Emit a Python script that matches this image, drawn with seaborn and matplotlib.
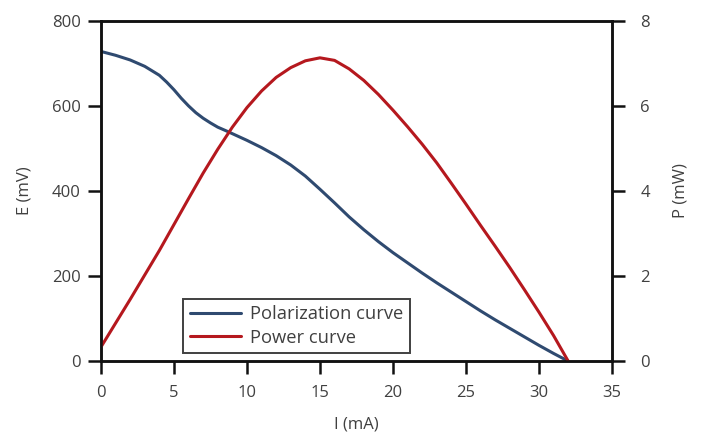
import matplotlib
matplotlib.use("Agg")
import matplotlib.pyplot as plt
import seaborn as sns
import pandas as pd

sns.set_style("ticks")
plt.rcParams["font.family"] = ["Open Sans", "DejaVu Sans"]

# polarization curve, E (mV) vs I (mA)
current_pol = [0, 1, 2, 3, 4, 4.5, 5, 5.5, 6, 6.5, 7, 7.5, 8, 8.6, 10, 11, 12,
               13, 14, 15, 16, 17, 18, 19, 20, 21, 22, 23, 24, 25, 26, 27,
               28, 29, 30, 31, 32]
voltage_pol = [728, 719, 708, 693, 672, 656, 638, 618, 600, 584, 571, 560, 550, 541, 519, 502, 483,
               461, 435, 404, 372, 339, 309, 281, 255, 231, 207, 184, 162, 140, 118, 97,
               77, 57, 37, 18, 0]

# power curve, P (mW) vs I (mA)
current_pow = [0, 2, 4, 6, 7, 8, 9, 10, 11, 12, 13, 14, 15, 16, 17, 18,
               19, 20, 21, 22, 23, 24, 25, 26, 27, 28, 29, 30, 31, 32]
power_pow = [0.33, 1.45, 2.6, 3.82, 4.42, 4.98, 5.5, 5.96, 6.35, 6.67, 6.9, 7.06, 7.13,
             7.07, 6.87, 6.6, 6.27, 5.9, 5.51, 5.1, 4.66, 4.18, 3.69, 3.19, 2.7, 2.2, 1.68,
             1.15, 0.6, 0.0]

blue = "#2f4a70"
red = "#b5181e"
txt = "#404040"

pol = pd.DataFrame({"I": current_pol, "E": voltage_pol})
pw = pd.DataFrame({"I": current_pow, "P": power_pow})

fig = plt.figure(figsize=(7.01, 4.34), dpi=100)
ax = fig.add_axes([0.144, 0.168, 0.729, 0.784])
ax2 = ax.twinx()

sns.lineplot(data=pol, x="I", y="E", ax=ax, color=blue, linewidth=2.2,
             label="Polarization curve", legend=False)
sns.lineplot(data=pw, x="I", y="P", ax=ax2, color=red, linewidth=2.2,
             label="Power curve", legend=False)

ax.set_xlim(0, 35)
ax.set_ylim(0, 800)
ax2.set_ylim(0, 8)
ax.set_xticks(range(0, 36, 5))
ax.set_yticks(range(0, 801, 200))
ax2.set_yticks(range(0, 9, 2))

for a in (ax, ax2):
    for s in a.spines.values():
        s.set_visible(True)
        s.set_color("#111111")
        s.set_linewidth(1.8)
    a.tick_params(length=9.5, width=1.8, color="#111111", labelsize=12,
                  labelcolor=txt)
ax.tick_params(axis="y", pad=5)
ax.tick_params(axis="x", pad=8)
ax2.tick_params(axis="y", pad=11)

ax.set_xlabel("I (mA)", fontsize=12, color=txt, labelpad=11)
ax.set_ylabel("E (mV)", fontsize=12, color=txt, labelpad=14)
ax2.set_ylabel("P (mW)", fontsize=12, color=txt, labelpad=16)

handles = ax.get_lines() + ax2.get_lines()
leg = ax.legend(handles, [h.get_label() for h in handles],
                loc="lower left", bbox_to_anchor=(0.161, 0.024),
                fontsize=13.2, handlelength=2.8, frameon=True, fancybox=False,
                borderpad=0.35, labelspacing=0.3, handletextpad=0.5,
                borderaxespad=0)
leg.get_frame().set_edgecolor("#111111")
leg.get_frame().set_linewidth(1.4)
for t in leg.get_texts():
    t.set_color(txt)

fig.savefig("out.png", dpi=100)
